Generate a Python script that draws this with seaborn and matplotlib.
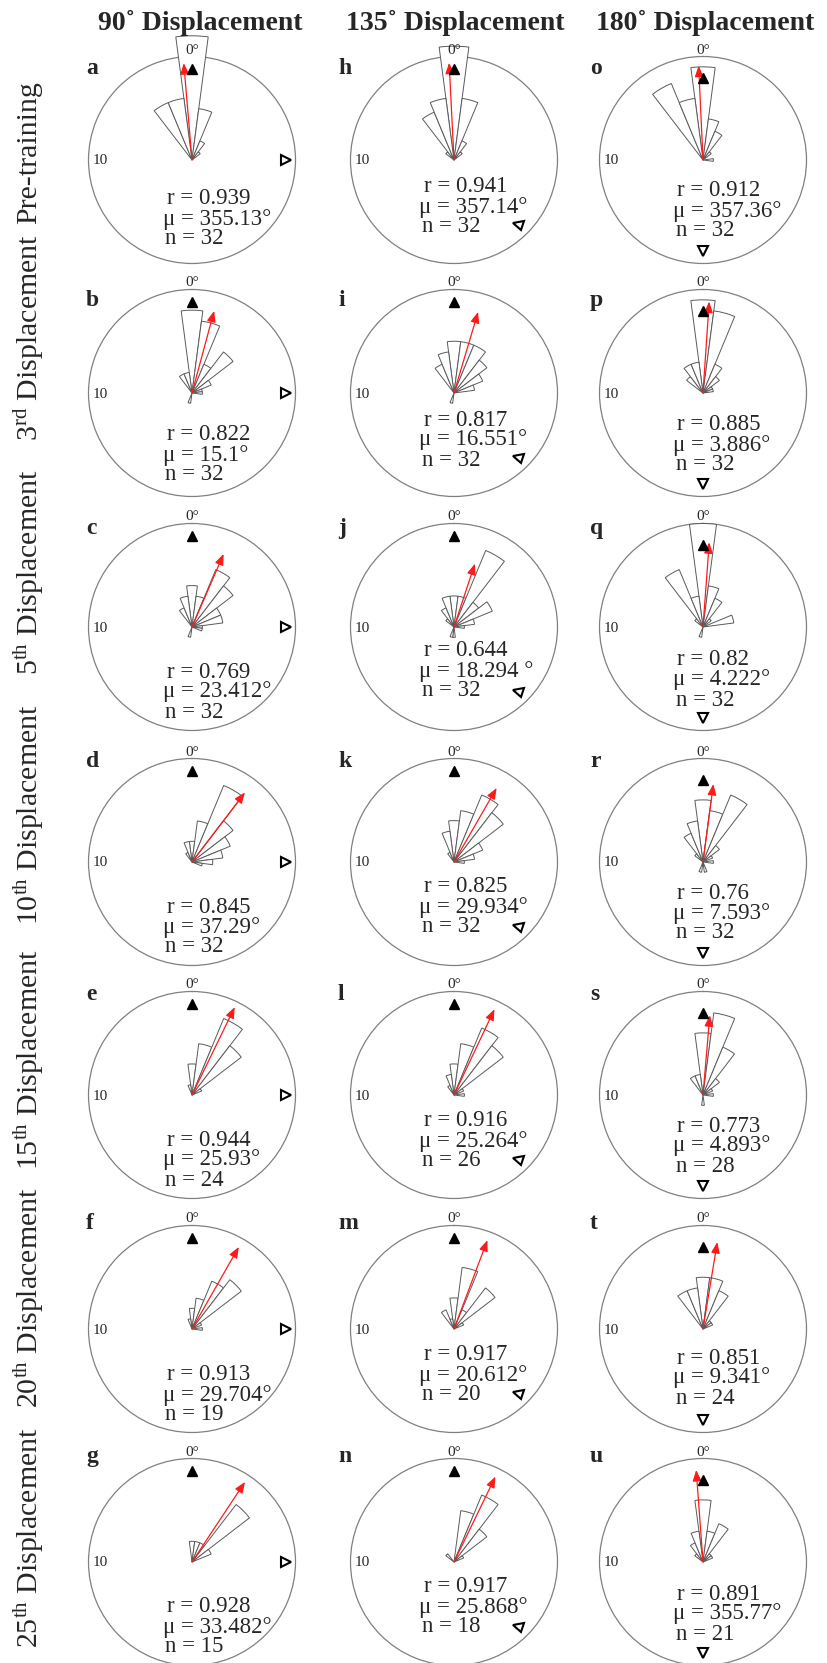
import numpy as np
import pandas as pd
import matplotlib
matplotlib.use("Agg")
import matplotlib.pyplot as plt
import seaborn as sns
from matplotlib.markers import MarkerStyle
from matplotlib.transforms import Affine2D

sns.set_theme(style="white")
plt.rcParams["font.family"] = ["Liberation Serif", "DejaVu Serif"]
plt.rcParams["mathtext.fontset"] = "custom"
plt.rcParams["mathtext.rm"] = "Liberation Serif"
plt.rcParams["mathtext.it"] = "Liberation Serif:italic"
plt.rcParams["mathtext.bf"] = "Liberation Serif:bold"

# ---------------- data ----------------
BIN_CENTERS = list(range(0, 360, 15))          # 15-degree bins
COLUMN_TITLES = ["90˚ Displacement", "135˚ Displacement", "180˚ Displacement"]
DISPLACEMENT_DEG = [90, 135, 180]
ROW_LABELS = ["Pre-training",
              r"3$^{\mathrm{rd}}$ Displacement",
              r"5$^{\mathrm{th}}$ Displacement",
              r"10$^{\mathrm{th}}$ Displacement",
              r"15$^{\mathrm{th}}$ Displacement",
              r"20$^{\mathrm{th}}$ Displacement",
              r"25$^{\mathrm{th}}$ Displacement"]
LETTERS_90 = list("abcdefg")
LETTERS_135 = list("hijklmn")
LETTERS_180 = list("opqrstu")

# counts per bin centre (degrees) for each panel
COUNTS_A = {330: 6, 345: 6, 0: 12, 15: 5, 30: 2, 45: 1}
COUNTS_B = {330: 2, 345: 2, 0: 8, 15: 7, 30: 3, 45: 5, 60: 2, 75: 1, 90: 1, 195: 1}
COUNTS_C = {330: 2, 345: 3, 0: 4, 15: 3, 30: 6, 45: 5, 60: 3, 75: 3, 90: 1, 105: 1, 195: 1}
COUNTS_D = {330: 1, 345: 2, 0: 2, 15: 4, 30: 8, 45: 5, 60: 4, 75: 3, 90: 2, 105: 1}
COUNTS_E = {345: 1, 0: 3, 15: 5, 30: 8, 45: 6, 60: 1}
COUNTS_F = {345: 1, 0: 2, 15: 3, 30: 5, 45: 6, 60: 1, 90: 1}
COUNTS_G = {0: 2, 15: 2, 30: 2, 45: 7, 60: 2}
COUNTS_H = {315: 1, 330: 5, 345: 6, 0: 11, 15: 6, 30: 2, 45: 1}
COUNTS_I = {330: 3, 345: 4, 0: 5, 15: 5, 30: 5, 45: 4, 60: 3, 75: 2, 195: 1}
COUNTS_J = {315: 1, 330: 2, 345: 3, 0: 3, 15: 3, 30: 8, 45: 3, 60: 4, 75: 2, 90: 1, 180: 1, 195: 1}
COUNTS_K = {330: 1, 345: 3, 0: 4, 15: 5, 30: 7, 45: 6, 60: 3, 75: 2, 90: 1}
COUNTS_L = {330: 1, 345: 2, 0: 3, 15: 5, 30: 7, 45: 6, 60: 1, 90: 1}
COUNTS_M = {330: 2, 345: 1, 0: 3, 15: 6, 30: 2, 45: 5, 60: 1}
COUNTS_N = {315: 1, 15: 5, 30: 7, 45: 4, 60: 1}
COUNTS_O = {330: 8, 345: 6, 0: 9, 15: 4, 30: 3, 45: 1, 90: 1}
COUNTS_P = {315: 2, 330: 3, 345: 3, 0: 9, 15: 8, 30: 3, 45: 2, 60: 1, 75: 1}
COUNTS_Q = {315: 1, 330: 6, 345: 3, 0: 10, 15: 4, 30: 3, 45: 1, 75: 3, 195: 1}
COUNTS_R = {315: 1, 330: 3, 345: 4, 0: 6, 15: 5, 30: 7, 45: 2, 60: 1, 90: 1, 165: 1, 195: 1}
COUNTS_S = {330: 2, 345: 2, 0: 6, 15: 8, 30: 5, 45: 2, 60: 1, 90: 1, 180: 1}
COUNTS_T = {330: 4, 345: 4, 0: 5, 15: 5, 30: 4, 45: 1, 60: 1}
COUNTS_U = {315: 1, 330: 2, 345: 3, 0: 6, 15: 3, 30: 4, 45: 1, 60: 1}

R_90 = ["0.939", "0.822", "0.769", "0.845", "0.944", "0.913", "0.928"]
R_135 = ["0.941", "0.817", "0.644", "0.825", "0.916", "0.917", "0.917"]
R_180 = ["0.912", "0.885", "0.82", "0.76", "0.773", "0.851", "0.891"]
MU_90 = ["355.13", "15.1", "23.412", "37.29", "25.93", "29.704", "33.482"]
MU_135 = ["357.14", "16.551", "18.294 ", "29.934", "25.264", "20.612", "25.868"]
MU_180 = ["357.36", "3.886", "4.222", "7.593", "4.893", "9.341", "355.77"]
N_90 = [32, 32, 32, 32, 24, 19, 15]
N_135 = [32, 32, 32, 32, 26, 20, 18]
N_180 = [32, 32, 32, 32, 28, 24, 21]

COUNTS = [[COUNTS_A, COUNTS_B, COUNTS_C, COUNTS_D, COUNTS_E, COUNTS_F, COUNTS_G],
          [COUNTS_H, COUNTS_I, COUNTS_J, COUNTS_K, COUNTS_L, COUNTS_M, COUNTS_N],
          [COUNTS_O, COUNTS_P, COUNTS_Q, COUNTS_R, COUNTS_S, COUNTS_T, COUNTS_U]]
R_TXT = [R_90, R_135, R_180]
MU_TXT = [MU_90, MU_135, MU_180]
N_VAL = [N_90, N_135, N_180]
LETTERS = [LETTERS_90, LETTERS_135, LETTERS_180]

# ---------------- layout (pixels) ----------------
W, H = 828, 1663
RAD = 103.5
COL_X = [192, 454, 703]
ROW_Y = [160, 393, 627, 862, 1095, 1329, 1562]
TITLE_X = [200, 455, 705]
LETTER_X = [86, 338, 590]
LETTER_Y = [74, 306, 534, 767, 1000, 1229, 1462]
ROWLAB_Y = [153, 338, 572, 815, 1060, 1298, 1538]
TXT_DX = [(-25, -29, -27), (-30, -35, -32), (-26, -30, -27)]
TXT_DY = [[37, 40, 43, 43, 43, 44, 43],
          [25, 25, 22, 23, 24, 24, 23],
          [29, 30, 31, 29, 29, 27, 30]]
BLACK_FRAC = [0.88, 0.88, 0.79]
OPEN_FRAC = [0.91, 0.88, 0.88]

fig = plt.figure(figsize=(W / 100, H / 100), dpi=100)


def fx(x):
    return x / W


def fy(y):
    return 1 - y / H


serif = ["Liberation Serif", "DejaVu Serif"]

for ci in range(3):
    fig.text(fx(TITLE_X[ci]), fy(30), COLUMN_TITLES[ci], ha="center", va="baseline",
             fontsize=20, fontweight="bold", family=serif)
    for ri in range(7):
        cx, cy = COL_X[ci], ROW_Y[ri]
        ax = fig.add_axes([fx(cx - RAD), fy(cy + RAD), 2 * RAD / W, 2 * RAD / H],
                          projection="polar")
        cnt = COUNTS[ci][ri]
        df = pd.DataFrame({"theta": np.deg2rad(BIN_CENTERS),
                           "count": [cnt.get(b, 0) for b in BIN_CENTERS]})
        sns.barplot(data=df, x="theta", y="count", native_scale=True, orient="x",
                    width=1.0, color="white", saturation=1, errorbar=None, ax=ax,
                    edgecolor="#5a5a5a", linewidth=0.7, zorder=3, clip_on=False)
        ax.set_theta_zero_location("N")
        ax.set_theta_direction(-1)
        ax.set_xlim(0, 2 * np.pi)
        ax.set_ylim(0, 10)
        ax.set_xticks([])
        ax.set_yticks([])
        ax.set_xlabel("")
        ax.set_ylabel("")
        ax.grid(False)
        ax.set_facecolor("white")
        ax.spines["polar"].set_edgecolor("#808080")
        ax.spines["polar"].set_linewidth(0.9)

        # mean vector
        r_val = float(R_TXT[ci][ri])
        mu_val = float(MU_TXT[ci][ri])
        ax.annotate("", xy=(np.deg2rad(mu_val), r_val * 10), xytext=(0, 0),
                    arrowprops=dict(arrowstyle="-|>,head_length=0.55,head_width=0.22",
                                    color="#ff1a1a", lw=0.9, shrinkA=0, shrinkB=0,
                                    mutation_scale=12),
                    zorder=5, annotation_clip=False)
        # home direction (filled) and displacement direction (open)
        ax.plot([0], [BLACK_FRAC[ci] * 10], marker="^", ms=7.5, color="black",
                clip_on=False, zorder=6, linestyle="none")
        disp = DISPLACEMENT_DEG[ci]
        if disp == 90:
            mk = ">"
        elif disp == 180:
            mk = "v"
        else:
            mk = MarkerStyle("^", transform=Affine2D().rotate_deg(75))
        ax.plot([np.deg2rad(disp)], [OPEN_FRAC[ci] * 10], marker=mk, ms=7,
                mfc="white", mec="black", mew=1.5, clip_on=False, zorder=6,
                linestyle="none")

        # labels
        fig.text(fx(cx), fy(cy - 110), "0°", ha="center", va="center", fontsize=11,
                 family=serif)
        fig.text(fx(cx - 92), fy(cy + 1), "10", ha="center", va="center", fontsize=11,
                 family=serif)
        fig.text(fx(LETTER_X[ci]), fy(LETTER_Y[ri]), LETTERS[ci][ri], ha="left",
                 va="baseline", fontsize=17, fontweight="bold", family=serif)
        dy0 = TXT_DY[ci][ri]
        lines = [f"r = {R_TXT[ci][ri]}", f"μ = {MU_TXT[ci][ri]}°", f"n = {N_VAL[ci][ri]}"]
        for k, line in enumerate(lines):
            fig.text(fx(cx + TXT_DX[ci][k]), fy(cy + dy0 + 20 * k + 7.5), line,
                     ha="left", va="baseline", fontsize=16.5, family=serif)

for ri in range(7):
    fig.text(fx(29), fy(ROWLAB_Y[ri]), ROW_LABELS[ri], rotation=90, ha="center",
             va="center", fontsize=21.5, family=serif)

fig.savefig("out.png", dpi=100, facecolor="white")
